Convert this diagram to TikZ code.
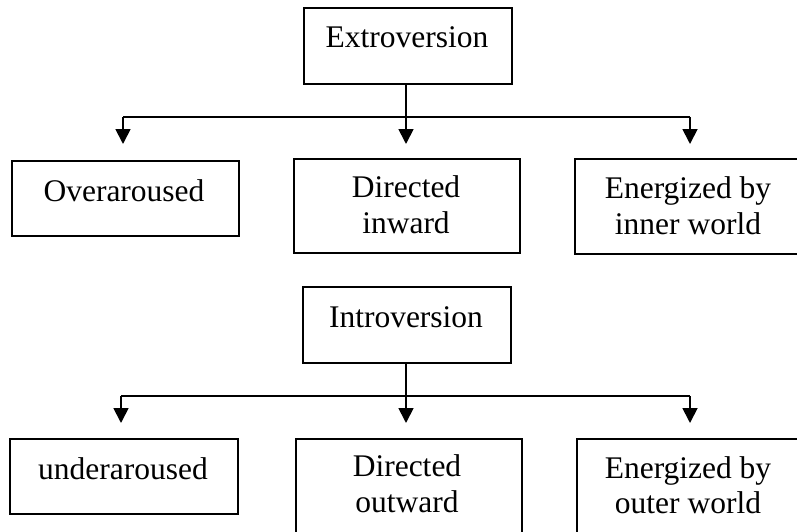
\documentclass[tikz,border=0pt]{standalone}
\usepackage{fontspec}
\setmainfont{Liberation Serif}
\usetikzlibrary{arrows.meta}
\begin{document}
\begin{tikzpicture}[x=1pt,y=-1pt,
  box/.style={draw,line width=1.8pt,minimum width=#1,minimum height=76pt,inner sep=0pt,anchor=north west},
  lbl/.style={anchor=base,font=\fontsize{31.5}{36}\selectfont,inner sep=0pt},
  conn/.style={line width=1.6pt},
  arr/.style={line width=1.8pt,-{Triangle[length=15pt,width=15pt]}}]
\useasboundingbox (0,0) rectangle (797,532);
\begin{scope}
\clip (0,0) rectangle (797,532);
% top tree
\node[box=208pt] (ext) at (303,7) {};
\node[lbl] (extT) at (407,48) {Extroversion};
\node[box=227pt,minimum height=75pt] (over) at (11,160) {};
\node[lbl] (overT) at (124,201) {Overaroused};
\node[box=226pt,minimum height=94pt] (din) at (293,158) {};
\node[lbl] (dinT1) at (406,197) {Directed};
\node[lbl] (dinT2) at (406,233) {inward};
\node[box=228pt,minimum height=95pt] (ein) at (574,158) {};
\node[lbl] (einT1) at (688,198) {Energized by};
\node[lbl] (einT2) at (688,234) {inner world};
\coordinate (l1) at (123,117);
\coordinate (r1) at (690,117);
\coordinate (tl1) at (123,144);
\coordinate (tm1) at (406,144);
\coordinate (tr1) at (690,144);
\draw[conn] (l1) -- (r1);
\draw[arr] (ext.south -| tm1) -- (tm1);
\draw[arr] (l1) -- (tl1);
\draw[arr] (r1) -- (tr1);
% bottom tree
\node[box=208pt] (intr) at (302,286) {};
\node[lbl] (intrT) at (406,327) {Introversion};
\node[box=228pt,minimum height=75pt] (under) at (9,438) {};
\node[lbl] (underT) at (123,479) {underaroused};
\node[box=226pt,minimum height=110pt] (dout) at (295,438) {};
\node[lbl] (doutT1) at (407,476) {Directed};
\node[lbl] (doutT2) at (407,512.5) {outward};
\node[box=226pt,minimum height=110pt] (eout) at (576,438) {};
\node[lbl] (eoutT1) at (688,478) {Energized by};
\node[lbl] (eoutT2) at (688,513) {outer world};
\coordinate (l2) at (121,396);
\coordinate (r2) at (690,396);
\coordinate (tl2) at (121,423);
\coordinate (tm2) at (406,423);
\coordinate (tr2) at (690,423);
\draw[conn] (l2) -- (r2);
\draw[arr] (intr.south -| tm2) -- (tm2);
\draw[arr] (l2) -- (tl2);
\draw[arr] (r2) -- (tr2);
\end{scope}
\end{tikzpicture}
\end{document}
